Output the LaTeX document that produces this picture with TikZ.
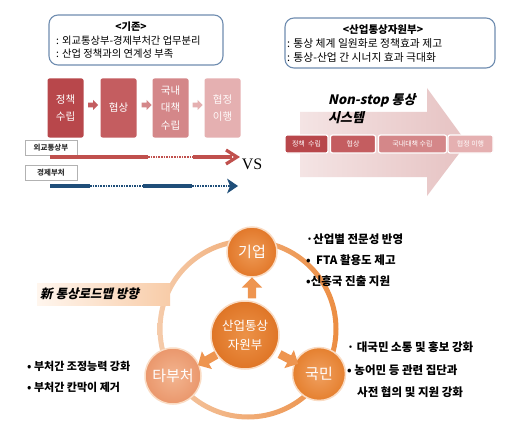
\documentclass[tikz,border=0pt]{standalone}
\usepackage{fontspec}
\setmainfont{Noto Sans CJK KR}
\newfontfamily\krslant[FakeSlant=0.22]{Noto Sans CJK KR}
\newfontfamily\vsfont{Liberation Serif}
\usetikzlibrary{shapes.arrows,shadows}
\definecolor{frameblue}{HTML}{6F8DB0}
\definecolor{pa}{HTML}{B8474B}
\definecolor{pb}{HTML}{C45D60}
\definecolor{pc}{HTML}{D48789}
\definecolor{pd}{HTML}{E5B0B1}
\definecolor{redline}{HTML}{C0504D}
\definecolor{blueline}{HTML}{1F4E79}
\definecolor{bigL}{HTML}{F4E4E4}
\definecolor{bigR}{HTML}{E6C2C2}
\definecolor{ringL}{HTML}{F5CBAA}
\definecolor{ringR}{HTML}{EC8D42}
\definecolor{orarrow}{HTML}{EE9550}
\definecolor{orbrim}{HTML}{FADCC4}
\definecolor{roadL}{HTML}{FFF6EE}
\definecolor{roadR}{HTML}{F8CCA8}
\definecolor{gIn}{HTML}{EE9A55}
\definecolor{gOut}{HTML}{E2782A}
\definecolor{mIn}{HTML}{EC9248}
\definecolor{mOut}{HTML}{DF7526}
\definecolor{tIn}{HTML}{F3B590}
\definecolor{tOut}{HTML}{EA976C}
\definecolor{kIn}{HTML}{F0A060}
\definecolor{kOut}{HTML}{E5802F}
\tikzset{
  infobox/.style={draw=frameblue, line width=1.1pt, rounded corners=9pt, fill=white},
  procbox/.style={rounded corners=2pt, minimum width=36pt, minimum height=59pt, text=white, align=center, inner sep=0pt, font=\fontsize{10.5}{17.5}\selectfont},
  smallarrow/.style={single arrow, inner sep=2.2pt, single arrow head extend=2.6pt, minimum height=10pt, draw=none},
  lblbox/.style={draw=gray!60, fill=white, minimum width=52pt, minimum height=15pt, inner sep=0pt, font=\bfseries\fontsize{7.5}{8}\selectfont, text=black!80, drop shadow={shadow xshift=1pt, shadow yshift=-1pt, opacity=0.25}},
  minibox/.style={rounded corners=2pt, draw=white, line width=1.2pt, minimum height=18pt, inner sep=0pt, text=white!95!pink, font=\fontsize{7}{8}\selectfont},
  orb/.style={circle, draw=orbrim, line width=1.5pt, text=white, align=center, inner sep=0pt},
  orarr/.style={single arrow, fill=orarrow, inner sep=4pt, single arrow head extend=6pt, minimum height=21pt, draw=none},
  bul/.style={anchor=west, inner sep=0pt, font=\bfseries\fontsize{11.5}{12}\selectfont},
  txt/.style={anchor=west, inner sep=0pt, font=\fontsize{10.3}{12}\selectfont}
}
\begin{document}
\begin{tikzpicture}[x=1pt,y=-1pt]
\useasboundingbox[fill=white] (0,0) rectangle (520,428);

% ---- top-left info box
\node[infobox, minimum width=174pt, minimum height=50pt] (oldbox) at (136,40) {};
\node[inner sep=0pt, font=\bfseries\fontsize{10.3}{12}\selectfont] (oldtitle) at (131,27) {<기존>};
\node[txt] (old1) at (56,41) {: 외교통상부-경제부처간 업무분리};
\node[txt] (old2) at (56,54) {: 산업 정책과의 연계성 부족};

% ---- process boxes
\node[procbox, fill=pa] (s1) at (65.5,108) {정책\\수립};
\node[procbox, fill=pb] (s2) at (118.5,108) {협상};
\node[procbox, fill=pc] (s3) at (170.5,108) {국내\\대책\\수립};
\node[procbox, fill=pd, text=white!92!pink] (s4) at (222.5,108) {협정\\이행};
\node[smallarrow, fill=pb] (sa1) at (92,105) {};
\node[smallarrow, fill=pc] (sa2) at (145.5,105) {};
\node[smallarrow, fill=pd] (sa3) at (196.5,105) {};

% ---- ministry labels and timelines
\node[lblbox] (mofat) at (51,147.5) {외교통상부};
\node[lblbox] (econ) at (51,172.5) {경제부처};

\coordinate (r0) at (50,157);
\coordinate (r1) at (148,157);
\coordinate (r2) at (193,157);
\coordinate (r3) at (232,157);
\coordinate (rtip) at (237,157);
\draw[redline, line width=3.6pt] (r0) -- (r1);
\draw[redline, line width=2pt, dash pattern=on 1.6pt off 1pt] (r1) -- (r2);
\draw[redline, line width=3.6pt] (r2) -- (r3);
\draw[redline, line width=3.2pt, line join=miter, line cap=butt] ([shift={(-11,-7)}]rtip) -- (rtip) -- ([shift={(-11,7)}]rtip);

\coordinate (b0) at (50,186);
\coordinate (b1) at (90,186);
\coordinate (b2) at (143,186);
\coordinate (b3) at (192,186);
\coordinate (b4) at (230,186);
\coordinate (btip) at (238,186);
\draw[blueline, line width=3.6pt] (b0) -- (b1);
\draw[blueline, line width=2pt, dash pattern=on 1.6pt off 1pt] (b1) -- (b2);
\draw[blueline, line width=3.6pt] (b2) -- (b3);
\draw[blueline, line width=2pt, dash pattern=on 1.6pt off 1pt] (b3) -- (b4);
\fill[blueline] ([shift={(-11,-7.5)}]btip) -- (btip) -- ([shift={(-11,7.5)}]btip) -- ([shift={(-8,0)}]btip) -- cycle;

\node[font=\vsfont\fontsize{16}{16}\selectfont, inner sep=0pt] (vs) at (252,164) {VS};

% ---- top-right info box
\node[infobox, minimum width=210pt, minimum height=50pt] (newbox) at (390,43) {};
\node[inner sep=0pt, font=\bfseries\fontsize{10.5}{12}\selectfont] (newtitle) at (383,30) {<산업통상자원부>};
\node[txt, font=\fontsize{10.8}{12}\selectfont] (new1) at (287,43) {: 통상 체계 일원화로 정책효과 제고};
\node[txt, font=\fontsize{10.8}{12}\selectfont] (new2) at (287,57) {: 통상-산업 간 시너지 효과 극대화};

% ---- big non-stop arrow
\shade[left color=bigL, right color=bigR] (300,112) -- (427,112) -- (427,88) -- (467,143) -- (427,196) -- (427,177) -- (300,177) -- cycle;
\node[minibox, fill=pa, minimum width=43pt] (n1) at (306.5,144) {정책~~수립};
\node[minibox, fill=pb, minimum width=45pt] (n2) at (353,144) {협상};
\node[minibox, fill=pc, minimum width=68pt] (n3) at (412.5,144) {국내대책 수립};
\node[minibox, fill=pd, minimum width=45pt] (n4) at (470.5,144) {협정 이행};
\node[anchor=west, inner sep=0pt, font=\krslant\bfseries\fontsize{13}{14}\selectfont] (ns1) at (328,100) {Non-stop 통상};
\node[anchor=west, inner sep=0pt, font=\krslant\bfseries\fontsize{13}{14}\selectfont] (ns2) at (328,118) {시스템};

% ---- roadmap ring
\shade[left color=ringL, right color=ringR, even odd rule] (248,329) circle (90.5pt) (248,329) circle (85.5pt);

\node[shade, left color=roadL, right color=roadR, minimum width=133pt, minimum height=22pt, inner sep=0pt] (roadbox) at (103.5,294) {};
\node[anchor=west, inner sep=0pt, font=\krslant\bfseries\fontsize{12.5}{13}\selectfont] (roadtxt) at (40,294) {新 통상로드맵 방향};

\node[orb, minimum size=50pt, inner color=gIn, outer color=gOut, font=\fontsize{15}{16}\selectfont] (giup) at (252,252) {기업};
\node[orb, minimum size=68pt, inner color=mIn, outer color=mOut, font=\fontsize{12.5}{19}\selectfont] (moti) at (245,335) {산업통상\\자원부};
\node[orb, minimum size=56pt, inner color=tIn, outer color=tOut, font=\fontsize{15}{16}\selectfont] (tabu) at (173,376) {타부처};
\node[orb, minimum size=53pt, inner color=kIn, outer color=kOut, font=\fontsize{15}{16}\selectfont] (gukmin) at (319,374) {국민};

\node[orarr, rotate=90] (a1) at (252,290) {};
\node[orarr, rotate=209.7] (a2) at (209,359) {};
\node[orarr, rotate=-27.8] (a3) at (287,358) {};

% ---- bullet texts
\node[bul, font=\bfseries\fontsize{11}{12}\selectfont] (l1) at (27,366) {• 부처간 조정능력 강화};
\node[bul, font=\bfseries\fontsize{11}{12}\selectfont] (l2) at (27,387) {• 부처간 칸막이 제거};

\node[bul] (g1) at (306,239) {·산업별 전문성 반영};
\node[bul] (g2) at (306,260) {•~~FTA 활용도 제고};
\node[bul] (g3) at (306,281) {•신흥국 진출 지원};

\node[bul] (k1) at (347,347) {·~대국민 소통 및 홍보 강화};
\node[bul] (k2) at (347,370) {•~농어민 등 관련 집단과};
\node[bul] (k3) at (357,392) {사전 협의 및 지원 강화};
\end{tikzpicture}
\end{document}
